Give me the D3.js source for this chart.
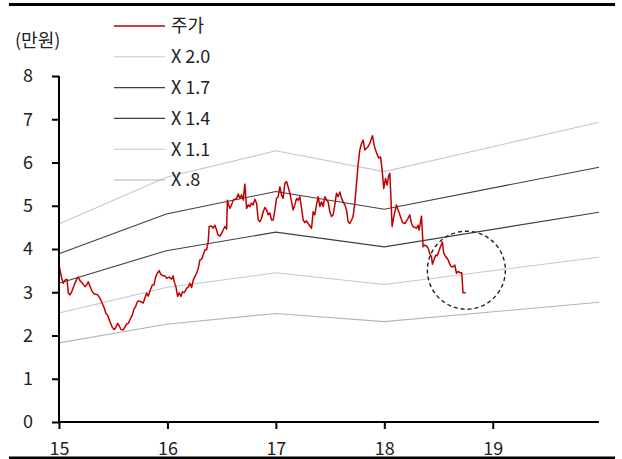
<!DOCTYPE html>
<html><head><meta charset="utf-8">
<script src="https://cdn.jsdelivr.net/npm/d3@7"></script>
<style>body{margin:0;background:#fff}svg{display:block}text{font-family:"Noto Sans CJK KR","Open Sans",sans-serif;fill:#222}</style>
</head><body><svg id="c" width="622" height="459"></svg>
<script>
// Price (만원) by fractional year
const priceT = [15.000,15.025,15.040,15.055,15.074,15.086,15.101,15.117,15.141,15.166,15.178,15.194,15.215,15.240,15.255,15.270,15.286,15.307,15.325,15.357,15.378,15.399,15.418,15.433,15.449,15.470,15.491,15.510,15.525,15.541,15.556,15.571,15.593,15.608,15.624,15.639,15.661,15.676,15.691,15.707,15.719,15.731,15.756,15.777,15.808,15.823,15.839,15.860,15.876,15.891,15.906,15.924,15.937,15.961,15.977,15.993,16.017,16.039,16.053,16.063,16.078,16.094,16.109,16.124,16.140,16.155,16.177,16.195,16.207,16.223,16.238,16.253,16.269,16.284,16.300,16.315,16.330,16.346,16.361,16.376,16.385,16.407,16.422,16.438,16.453,16.468,16.484,16.500,16.514,16.530,16.546,16.553,16.560,16.576,16.592,16.606,16.622,16.638,16.653,16.668,16.684,16.699,16.714,16.730,16.745,16.760,16.776,16.791,16.806,16.822,16.837,16.853,16.868,16.883,16.899,16.915,16.929,16.945,16.960,16.975,16.991,17.006,17.021,17.037,17.052,17.067,17.083,17.098,17.113,17.129,17.145,17.159,17.175,17.191,17.206,17.221,17.237,17.252,17.267,17.283,17.298,17.329,17.344,17.359,17.375,17.390,17.406,17.421,17.436,17.452,17.467,17.482,17.498,17.513,17.528,17.544,17.559,17.574,17.590,17.606,17.620,17.636,17.652,17.666,17.682,17.698,17.712,17.728,17.744,17.758,17.774,17.790,17.805,17.820,17.836,17.851,17.866,17.882,17.891,17.906,17.919,17.937,17.949,17.965,17.980,17.995,18.011,18.026,18.041,18.051,18.060,18.072,18.088,18.112,18.127,18.143,18.168,18.189,18.205,18.219,18.235,18.251,18.265,18.281,18.297,18.311,18.321,18.343,18.358,18.373,18.389,18.404,18.419,18.435,18.444,18.459,18.475,18.487,18.502,18.518,18.536,18.548,18.567,18.588,18.604,18.619,18.634,18.650,18.665,18.680,18.702,18.714,18.726,18.751];
const priceV = [3.63,3.32,3.21,3.28,3.30,2.98,2.94,3.01,3.17,3.32,3.35,3.27,3.21,3.13,3.17,3.24,3.14,3.01,2.96,2.94,2.86,2.74,2.63,2.51,2.47,2.32,2.19,2.14,2.19,2.28,2.22,2.14,2.13,2.20,2.27,2.28,2.40,2.47,2.61,2.67,2.76,2.80,2.78,2.75,2.98,2.91,3.03,3.17,3.17,3.35,3.44,3.50,3.42,3.38,3.38,3.32,3.35,3.30,3.38,3.24,3.13,2.90,2.99,2.90,3.01,2.99,3.09,3.13,3.21,3.11,3.28,3.36,3.44,3.55,3.75,3.76,3.86,3.98,3.98,4.17,4.52,4.53,4.48,4.55,4.44,4.32,4.30,4.36,4.44,4.52,4.46,5.13,5.06,4.94,5.02,5.13,5.15,5.17,5.27,5.17,5.25,5.13,5.50,4.94,5.02,4.98,5.06,5.02,5.15,5.06,4.67,4.63,4.71,4.86,4.96,4.90,4.79,4.83,4.67,4.67,4.90,5.17,5.21,5.44,5.25,5.17,5.52,5.56,5.44,5.29,5.09,4.90,5.02,5.17,5.13,5.21,4.94,4.67,4.61,4.65,4.59,4.48,4.86,4.79,5.02,5.21,4.98,5.09,4.98,5.21,5.13,5.09,4.86,4.75,4.79,5.02,5.29,5.21,5.32,5.17,5.09,5.02,4.90,4.63,4.59,4.67,4.75,5.06,5.52,5.94,6.29,6.44,6.52,6.29,6.33,6.37,6.44,6.56,6.62,6.40,6.29,6.17,6.10,6.13,5.83,5.40,5.63,5.48,5.71,5.75,5.25,4.52,4.75,5.02,4.90,4.79,4.61,4.59,4.65,4.71,4.79,4.59,4.52,4.50,4.48,4.55,4.44,4.76,4.05,4.09,4.07,4.02,3.90,3.82,3.65,3.76,3.86,3.84,3.94,4.05,4.16,3.90,3.82,3.75,3.65,3.59,3.59,3.63,3.44,3.48,3.45,3.45,2.99,2.99];

// PBR band lines
const bandT = [15, 15.99, 17, 18, 19.98];
const band20 = [4.58, 5.66, 6.27, 5.79, 6.93];
const band17 = [3.89, 4.81, 5.33, 4.92, 5.89];
const band14 = [3.21, 3.96, 4.39, 4.05, 4.85];
const band11 = [2.52, 3.11, 3.45, 3.18, 3.81];
const band08 = [1.83, 2.26, 2.51, 2.32, 2.77];

const seriesNames = ["주가", "X 2.0", "X 1.7", "X 1.4", "X 1.1", "X .8"];
const xTicks = [15, 16, 17, 18, 19];
const yTicks = [0, 1, 2, 3, 4, 5, 6, 7, 8];
const circleCenter = [18.757, 3.51];

const FONT = '"Noto Sans CJK KR","Open Sans",sans-serif';
const svg = d3.select("#c");
const x = d3.scaleLinear().domain([15, 19.98]).range([59, 599]);
const y = d3.scaleLinear().domain([0, 8]).range([422, 76]);

svg.append("line").attr("x1", 9).attr("x2", 615).attr("y1", 4.5).attr("y2", 4.5).attr("stroke", "#000").attr("stroke-width", 3);

const bandColors = ["#c8c8c8", "#3f3f3f", "#3f3f3f", "#c8c8c8", "#b4b4b4"];
const bands = [band20, band17, band14, band11, band08];
const line = d3.line();
bands.forEach((b, i) => {
  svg.append("path")
    .attr("d", line(bandT.map((t, j) => [x(t), y(b[j])])))
    .attr("fill", "none").attr("stroke", bandColors[i]).attr("stroke-width", 1.1);
});

svg.append("path")
  .attr("d", line(priceT.map((t, j) => [x(t), y(priceV[j])])))
  .attr("fill", "none").attr("stroke", "#c00000").attr("stroke-width", 1.5).attr("stroke-linejoin", "round");

svg.append("circle").attr("cx", x(circleCenter[0])).attr("cy", y(circleCenter[1])).attr("r", 39)
  .attr("fill", "none").attr("stroke", "#222").attr("stroke-width", 1.4).attr("stroke-dasharray", "4,3");

const yAxis = svg.append("g").attr("transform", "translate(59,0)")
  .call(d3.axisLeft(y).tickValues(yTicks).tickSize(7).tickPadding(19).tickFormat(d3.format("d")));
const xAxis = svg.append("g").attr("transform", "translate(0,422)")
  .call(d3.axisBottom(x).tickValues(xTicks).tickSize(7).tickPadding(13).tickFormat(d3.format("d")));
[yAxis, xAxis].forEach(a => {
  a.select(".domain").attr("stroke", "#000").attr("stroke-width", 2);
  a.selectAll(".tick line").attr("stroke", "#000").attr("stroke-width", 2);
  a.selectAll(".tick text").attr("font-size", 18).attr("fill", "#222").style("font-family", FONT);
});
yAxis.select(".domain").attr("d", "M0,76V422");
xAxis.select(".domain").attr("d", "M59,0H599");

svg.append("text").attr("x", 15).attr("y", 47).attr("font-size", 18).text("(만원)");

const legColors = ["#c00000"].concat(bandColors);
seriesNames.forEach((n, i) => {
  const ly = 26 + i * 30.8;
  svg.append("line").attr("x1", 114).attr("x2", 165).attr("y1", ly).attr("y2", ly)
    .attr("stroke", legColors[i]).attr("stroke-width", i === 0 ? 1.5 : 1.1);
  svg.append("text").attr("x", 171).attr("y", ly).attr("dy", "0.35em").attr("font-size", 18)
    .attr("xml:space", "preserve").text(n.replace(" ", "\u00a0"));
});

svg.append("line").attr("x1", 9).attr("x2", 615).attr("y1", 458).attr("y2", 458).attr("stroke", "#000").attr("stroke-width", 3);
</script></body></html>
